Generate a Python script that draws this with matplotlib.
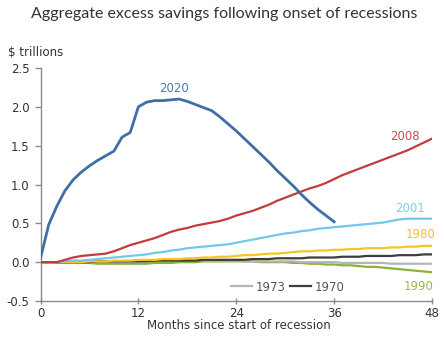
import matplotlib
matplotlib.use("Agg")
import matplotlib.pyplot as plt
from matplotlib.lines import Line2D

# Months since the start of each recession
months_2020 = list(range(0, 37))
months = list(range(0, 49))

# Aggregate excess savings, $ trillions
s2020 = [0.05, 0.48, 0.72, 0.92, 1.06, 1.16, 1.24, 1.31, 1.37, 1.43, 1.61, 1.67,
         2.00, 2.06, 2.08, 2.08, 2.09, 2.10, 2.07, 2.03, 1.99, 1.95, 1.87, 1.78,
         1.69, 1.59, 1.49, 1.39, 1.29, 1.18, 1.08, 0.98, 0.87, 0.77, 0.68, 0.60,
         0.52]
s2008 = [0, 0, 0, 0.03, 0.06, 0.08, 0.09, 0.10, 0.11, 0.14, 0.18, 0.22,
         0.25, 0.28, 0.31, 0.35, 0.39, 0.42, 0.44, 0.47, 0.49, 0.51, 0.53, 0.56,
         0.60, 0.63, 0.66, 0.70, 0.74, 0.79, 0.83, 0.87, 0.91, 0.95, 0.98, 1.02,
         1.07, 1.12, 1.16, 1.20, 1.24, 1.28, 1.32, 1.36, 1.40, 1.44, 1.49, 1.54,
         1.59]
s2001 = [0, 0, 0, 0.01, 0.02, 0.02, 0.03, 0.04, 0.05, 0.06, 0.07, 0.08,
         0.09, 0.10, 0.12, 0.13, 0.15, 0.16, 0.18, 0.19, 0.20, 0.21, 0.22, 0.23,
         0.25, 0.27, 0.29, 0.31, 0.33, 0.35, 0.37, 0.38, 0.40, 0.41, 0.43, 0.44,
         0.45, 0.46, 0.47, 0.48, 0.49, 0.50, 0.51, 0.53, 0.55, 0.56, 0.56, 0.56,
         0.56]
s1980 = [0, 0, 0, 0, 0, 0, 0.01, 0.01, 0.01, 0.02, 0.02, 0.02,
         0.03, 0.03, 0.03, 0.04, 0.04, 0.04, 0.05, 0.05, 0.06, 0.06, 0.07, 0.07,
         0.08, 0.09, 0.09, 0.10, 0.11, 0.11, 0.12, 0.13, 0.14, 0.14, 0.15, 0.15,
         0.16, 0.16, 0.17, 0.17, 0.18, 0.18, 0.18, 0.19, 0.19, 0.20, 0.20, 0.21,
         0.21]
s1970 = [0, 0, 0, 0, 0, 0, 0, 0.01, 0.01, 0.01, 0.01, 0.01,
         0.01, 0.01, 0.02, 0.02, 0.02, 0.02, 0.02, 0.02, 0.03, 0.03, 0.03, 0.03,
         0.03, 0.03, 0.04, 0.04, 0.04, 0.05, 0.05, 0.05, 0.05, 0.06, 0.06, 0.06,
         0.06, 0.07, 0.07, 0.07, 0.08, 0.08, 0.08, 0.08, 0.09, 0.09, 0.09, 0.10,
         0.10]
s1973 = [0, 0, 0, 0.01, 0.01, 0.01, 0.01, 0.01, 0.01, 0.01, 0.01, 0.01,
         0.01, 0.02, 0.02, 0.02, 0.02, 0.02, 0.02, 0.02, 0.02, 0.02, 0.02, 0.02,
         0.02, 0.01, 0.01, 0.01, 0.01, 0.01, 0.01, 0.01, 0.0, 0.0, 0.0, 0.0,
         0.0, -0.01, -0.01, -0.01, -0.01, -0.01, -0.01, -0.02, -0.02, -0.02, -0.02, -0.02,
         -0.02]
s1990 = [0, 0, -0.01, -0.01, -0.01, -0.01, -0.01, -0.02, -0.02, -0.02, -0.02, -0.02,
         -0.02, -0.02, -0.01, -0.01, -0.01, 0.0, 0.0, 0.0, 0.01, 0.01, 0.01, 0.01,
         0.01, 0.01, 0.01, 0.0, 0.0, 0.0, 0.0, -0.01, -0.01, -0.02, -0.02, -0.03,
         -0.03, -0.04, -0.04, -0.05, -0.06, -0.06, -0.07, -0.08, -0.09, -0.10, -0.11, -0.12,
         -0.13]

x_ticks = [0, 12, 24, 36, 48]
y_ticks = [-0.5, 0.0, 0.5, 1.0, 1.5, 2.0, 2.5]

c2020 = "#3f6fa6"
c2008 = "#c23b3d"
c2001 = "#72c8ea"
c1980 = "#f7c520"
c1970 = "#3d3d3d"
c1973 = "#b5b5b5"
c1990 = "#8cb13a"
axis_grey = "#8a8a8a"
text_dark = "#333333"

num_font = ["Liberation Sans Narrow", "DejaVu Sans"]

fig = plt.figure(figsize=(4.44, 3.37), dpi=100)
ax = fig.add_axes([40.5 / 444, 36 / 337, 391.5 / 444, 233 / 337])

ax.plot(months, s1990, color=c1990, lw=1.6, zorder=2)
ax.plot(months, s1973, color=c1973, lw=1.6, zorder=2)
ax.plot(months, s1970, color=c1970, lw=1.6, zorder=3)
ax.plot(months, s1980, color=c1980, lw=1.6, zorder=3)
ax.plot(months, s2001, color=c2001, lw=1.6, zorder=4)
ax.plot(months, s2008, color=c2008, lw=1.6, zorder=5)
ax.plot(months_2020, s2020, color=c2020, lw=2.0, zorder=6)

ax.set_xlim(0, 48)
ax.set_ylim(-0.5, 2.5)
ax.set_xticks(x_ticks)
ax.set_yticks(y_ticks)
ax.set_xticklabels([str(v) for v in x_ticks])
ax.set_yticklabels([f"{v:.1f}" for v in y_ticks])

for side in ("top", "right"):
    ax.spines[side].set_visible(False)
for side in ("left", "bottom"):
    ax.spines[side].set_color(axis_grey)
    ax.spines[side].set_linewidth(1.0)

ax.tick_params(axis="x", direction="inout", length=5, width=1, color=axis_grey,
               pad=2, labelsize=8.5, labelcolor=text_dark)
ax.tick_params(axis="y", direction="out", length=4, width=1, color=axis_grey,
               pad=4, labelsize=8.5, labelcolor=text_dark)
for lab in ax.get_xticklabels() + ax.get_yticklabels():
    lab.set_family(num_font)

# Series labels
ax.text(16.4, 2.24, "2020", color="#4a78ad", fontsize=8.5, family=num_font,
        ha="center", va="center")
ax.text(44.7, 1.62, "2008", color="#c44d4f", fontsize=8.5, family=num_font,
        ha="center", va="center")
ax.text(45.3, 0.69, "2001", color="#7fcdeb", fontsize=8.5, family=num_font,
        ha="center", va="center")
ax.text(46.6, 0.35, "1980", color="#f5c12e", fontsize=8.5, family=num_font,
        ha="center", va="center")
ax.text(46.4, -0.31, "1990", color="#98bc45", fontsize=8.5, family=num_font,
        ha="center", va="center")

# Legend for the two grey series
handles = [Line2D([], [], color=c1973, lw=1.6), Line2D([], [], color=c1970, lw=1.6)]
leg = ax.legend(handles, ["1973", "1970"], ncol=2, frameon=False,
                loc="center", bbox_to_anchor=(0.631, 0.06),
                handlelength=1.8, handletextpad=0.3, columnspacing=0.4,
                prop={"family": num_font, "size": 8.5})
for t in leg.get_texts():
    t.set_color("#555555")

ax.text(0.507, -0.105, "Months since start of recession", transform=ax.transAxes,
        ha="center", va="center", fontsize=8.5, family=num_font, color=text_dark)

fig.text(8 / 444, 1 - 52.7 / 337, "\\$ trillions", ha="left", va="center",
         fontsize=8.5, family=num_font, color=text_dark)

fig.text(0.505, 1 - 14 / 337, "Aggregate excess savings following onset of recessions",
         ha="center", va="center", fontsize=11.5, family=["Lato", "DejaVu Sans"],
         color=text_dark)

fig.savefig("out.png", dpi=100, facecolor="white")
